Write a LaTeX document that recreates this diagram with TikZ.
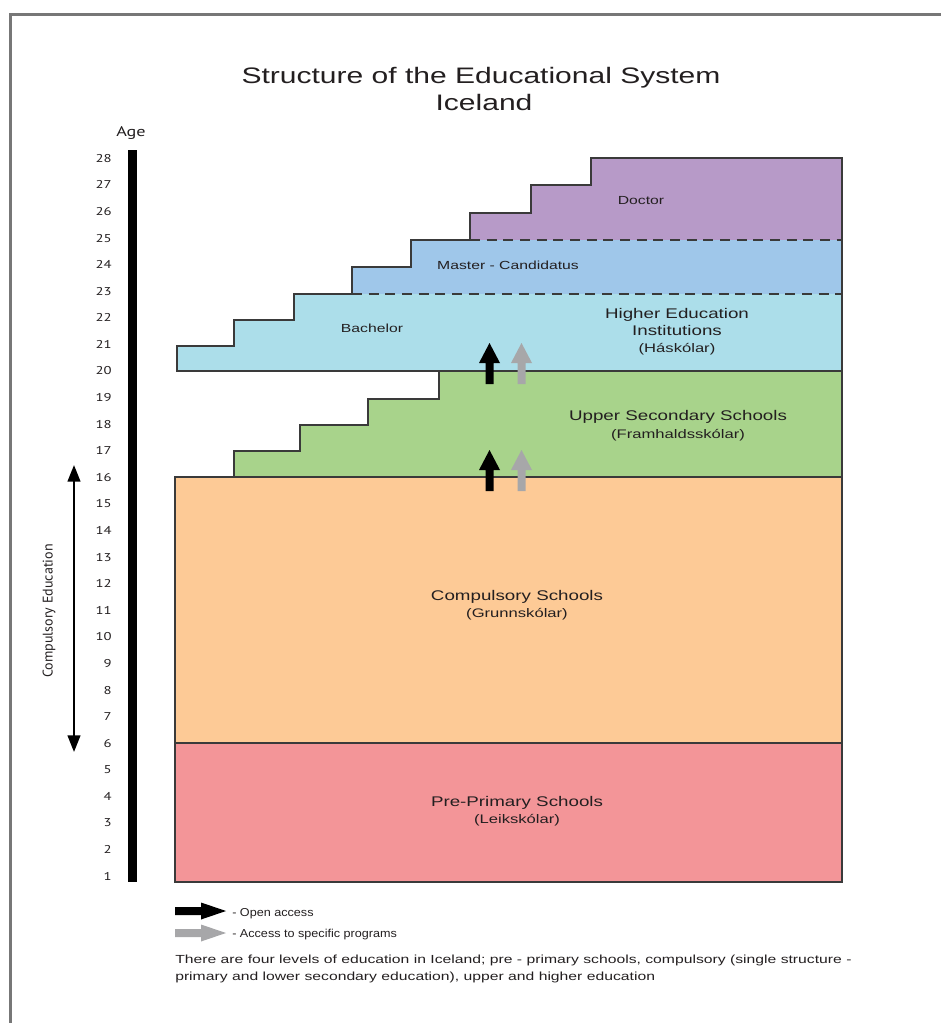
\documentclass[tikz,border=0pt]{standalone}
\usepackage{fontspec}
\setmainfont{Liberation Sans}
\newfontfamily\widef[FakeStretch=1.34]{Liberation Sans}
\newfontfamily\numf[FakeStretch=1.3]{PT Sans}
\newfontfamily\myrf{PT Sans}
\newfontfamily\legf[FakeStretch=1.1]{Liberation Sans}
\usetikzlibrary{arrows.meta}
\definecolor{cpink}{HTML}{F39598}
\definecolor{corange}{HTML}{FDCA96}
\definecolor{cgreen}{HTML}{A8D38B}
\definecolor{clblue}{HTML}{ACDEEA}
\definecolor{cmblue}{HTML}{9FC7EA}
\definecolor{cpurple}{HTML}{B79AC8}
\definecolor{cgray}{HTML}{A7A7A9}
\definecolor{cframe}{HTML}{777777}
\definecolor{cedge}{HTML}{3A3A3A}
\definecolor{ctext}{HTML}{231F20}
\tikzset{
  edgeline/.style={draw=cedge, line width=0.9pt, line join=miter},
  dashline/.style={draw=cedge, line width=0.9pt, dash pattern=on 7.5pt off 5pt},
  titletext/.style={font=\widef\fontsize{16.8}{20}\selectfont, text=ctext, inner sep=0pt, anchor=base},
  maintext/.style={font=\widef\fontsize{10.5}{12.75}\selectfont, text=ctext, inner sep=0pt, anchor=base},
  subtext/.style={font=\widef\fontsize{9.3}{12}\selectfont, text=ctext, inner sep=0pt, anchor=base},
  smalltext/.style={font=\widef\fontsize{8.8}{12}\selectfont, text=ctext, inner sep=0pt, anchor=base},
  agenum/.style={font=\numf\fontsize{8.5}{10}\selectfont, text=ctext, inner sep=0pt, anchor=east},
  legtext/.style={font=\legf\fontsize{8.6}{10}\selectfont, text=ctext, inner sep=0pt, anchor=base west},
  uparr/.pic={\fill[pic actions] (-4,0) -- (-4,-21) -- (-10.5,-21) -- (0,-41) -- (10.5,-21) -- (4,-21) -- (4,0) -- cycle;},
  rarr/.pic={\fill[pic actions] (0,-4) -- (26,-4) -- (26,-8.5) -- (51,0) -- (26,8.5) -- (26,4) -- (0,4) -- cycle;},
}
\begin{document}
\begin{tikzpicture}[x=0.75pt,y=-0.75pt]
\useasboundingbox (0,0) rectangle (940,1023);
% frame
\draw[cframe, line width=2.3pt] (10.5,1030) -- (10.5,14.5) -- (950,14.5);
% title
\node[titletext] (title1) at (481,84) {Structure of the Educational System};
\node[titletext] (title2) at (484,111) {Iceland};
% age axis
\fill[black] (128,150) rectangle (137,882);
\node[font=\numf\fontsize{10.5}{12}\selectfont, text=ctext, inner sep=0pt] (agelabel) at (131,133) {Age};
\foreach \n in {1,...,28} {
  \node[agenum] (age\n) at (112,{158.3+(28-\n)*26.59}) {\n};
}
% compulsory education arrow
\coordinate (ceTop) at (74,465);
\coordinate (ceBot) at (74,752);
\draw[line width=1.6pt, {Triangle[length=12.5pt,width=9.5pt]}-{Triangle[length=12.5pt,width=9.5pt]}] (ceTop) -- (ceBot);
\node[font=\myrf\fontsize{10.5}{12}\selectfont, text=ctext, rotate=90, inner sep=0pt] (celabel) at (49,611) {Compulsory Education};
% boxes
\fill[cpink] (175,743) rectangle (842,882);
\fill[corange] (175,477) rectangle (842,743);
\fill[cgreen] (234,477) -- (234,451) -- (300,451) -- (300,425) -- (368,425) -- (368,399) -- (439,399) -- (439,371) -- (842,371) -- (842,477) -- cycle;
\fill[clblue] (177,371) -- (177,346) -- (234,346) -- (234,320) -- (294,320) -- (294,294) -- (842,294) -- (842,371) -- cycle;
\fill[cmblue] (352,294) -- (352,267) -- (411,267) -- (411,240) -- (842,240) -- (842,294) -- cycle;
\fill[cpurple] (470,240) -- (470,213) -- (531,213) -- (531,185) -- (591,185) -- (591,158) -- (842,158) -- (842,240) -- cycle;
% outlines
\draw[edgeline] (175,743) rectangle (842,882);
\draw[edgeline] (175,743) -- (175,477) -- (842,477) -- (842,743);
\draw[edgeline] (234,477) -- (234,451) -- (300,451) -- (300,425) -- (368,425) -- (368,399) -- (439,399) -- (439,371) -- (842,371) -- (842,477);
\draw[edgeline] (439,371) -- (177,371) -- (177,346) -- (234,346) -- (234,320) -- (294,320) -- (294,294) -- (352,294) -- (352,267) -- (411,267) -- (411,240) -- (470,240) -- (470,213) -- (531,213) -- (531,185) -- (591,185) -- (591,158) -- (842,158) -- (842,371);
\draw[dashline] (352,294) -- (842,294);
\draw[dashline] (470,240) -- (842,240);
% access arrows
\pic[black] at (489.5,384) {uparr};
\pic[cgray] at (521.5,384) {uparr};
\pic[black] at (489.5,491) {uparr};
\pic[cgray] at (521.5,491) {uparr};
% box labels
\node[smalltext] (doctor) at (641,205) {Doctor};
\node[smalltext] (master) at (508,270) {Master - Candidatus};
\node[smalltext] (bachelor) at (372,332) {Bachelor};
\node[maintext] (he1) at (677,318) {Higher Education};
\node[maintext] (he2) at (677,335) {Institutions};
\node[subtext] (he3) at (677,352) {(Háskólar)};
\node[maintext] (us1) at (678,420) {Upper Secondary Schools};
\node[subtext] (us2) at (678,438) {(Framhaldsskólar)};
\node[maintext] (cs1) at (517,600) {Compulsory Schools};
\node[subtext] (cs2) at (517,617) {(Grunnskólar)};
\node[maintext] (pp1) at (517,806) {Pre-Primary Schools};
\node[subtext] (pp2) at (517,823) {(Leikskólar)};
% legend
\pic[black] at (175,911) {rarr};
\pic[cgray] at (175,933) {rarr};
\node[legtext] (leg1) at (232,916) {- Open access};
\node[legtext] (leg2) at (232,937) {- Access to specific programs};
\node[smalltext, anchor=base west] (para1) at (175,963) {There are four levels of education in Iceland; pre - primary schools, compulsory (single structure -};
\node[smalltext, anchor=base west] (para2) at (175,980) {primary and lower secondary education), upper and higher education};
\end{tikzpicture}
\end{document}
